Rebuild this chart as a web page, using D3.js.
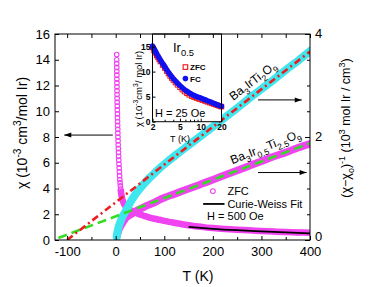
<!DOCTYPE html>
<html><head><meta charset="utf-8">
<script src="https://cdn.jsdelivr.net/npm/d3@7"></script>
<style>
body{margin:0;background:#fff;}
text{font-family:"Liberation Sans",Arial,sans-serif;}
</style></head><body>
<svg id="c" width="375" height="287"></svg>
<script>
// ---------- DATA ----------
// Ba3Ir0.5Ti2.5O9, ZFC chi (left axis, 1e-3 cm3/mol Ir)
const tChi=[2.0,2.05,2.1,2.15,2.2,2.3,2.4,2.5,2.6,2.7,2.8,2.9,3.0,3.15,3.3,3.45,3.6,3.8,4.0,4.2,4.4,4.6,4.85,5.1,5.4,5.7,6.0,6.3,6.7,7.1,7.5,8.0,8.5,9.0,9.6,10.2,11,12,13,14,15.5,17,19,21,23,26,29,32,36,40,45,50,55,60,65,70,80,90,100,110,120,135,150,165,180,200,225,250,275,300,325,350,375,400];
const chiZfc=[14.4,14.0,13.7,13.4,13.1,12.8,12.5,12.2,11.9,11.6,11.3,11.0,10.7,10.4,10.1,9.8,9.5,9.2,8.9,8.6,8.3,8.0,7.7,7.4,7.1,6.8,6.5,6.2,5.9,5.6,5.3,5.0,4.7,4.45,4.2,3.95,3.7,3.45,3.25,3.1,2.95,2.82,2.7,2.6,2.52,2.44,2.36,2.29,2.21,2.14,2.06,1.99,1.92,1.86,1.8,1.74,1.65,1.57,1.49,1.41,1.34,1.24,1.14,1.07,1.0,0.93,0.86,0.8,0.75,0.7,0.66,0.62,0.59,0.56];
// Curie-Weiss fit (left axis)
const tFit=[150,175,200,250,300,350,400];
const chiFit=[1.02,0.94,0.87,0.76,0.67,0.59,0.52];
// 1/(chi-chi0) Ba3Ir0.5Ti2.5O9 (right axis)
const tInvB=[2,3,4,5,6,8,10,12,15,18,20,25,30,35,40,50,60,70,80,90,100,120,140,160,180,200,225,250,275,300,325,350,375,400];
const invB=[0.06,0.1,0.13,0.16,0.19,0.23,0.27,0.3,0.35,0.39,0.42,0.46,0.49,0.52,0.55,0.6,0.65,0.69,0.73,0.78,0.82,0.89,0.96,1.03,1.1,1.17,1.26,1.35,1.44,1.53,1.62,1.7,1.79,1.87];
// 1/(chi-chi0) Ba3IrTi2O9 (right axis)
const tInvA=[2,3,4,5,6,8,10,12,15,20,25,30,40,50,60,70,80,90,100,125,150,175,200,225,250,275,300,325,350,375,400];
const invA=[0.06,0.12,0.17,0.21,0.25,0.31,0.36,0.41,0.47,0.55,0.64,0.73,0.88,1.0,1.11,1.21,1.3,1.39,1.47,1.66,1.84,2.02,2.2,2.38,2.56,2.75,2.93,3.11,3.3,3.48,3.67];
// linear fits (right axis)
const tFitA=[-100,400], fitA=[0.0,3.66];
const tFitB=[-118,400], fitB=[0.04,1.88];
// inset: H = 25 Oe
const tFc=[2.0,2.05,2.1,2.15,2.2,2.25,2.3,2.4,2.5,2.6,2.7,2.8,2.9,3.0,3.1,3.2,3.35,3.5,3.65,3.8,4.0,4.2,4.4,4.6,4.8,5.0,5.3,5.6,6.0,6.4,6.8,7.2,7.6,8.0,8.5,9.0,9.5,10,10.5,11,11.5,12,13,14,15,16,17,18,19,20];
const chiFc=[15.1,14.8,14.55,14.3,14.05,13.8,13.55,13.1,12.7,12.3,11.95,11.6,11.3,11.0,10.7,10.4,10.0,9.65,9.3,9.0,8.6,8.3,8.0,7.7,7.45,7.2,6.9,6.6,6.3,6.02,5.8,5.6,5.4,5.22,5.08,4.95,4.83,4.72,4.61,4.5,4.4,4.3,4.1,3.92,3.75,3.58,3.43,3.3,3.18,3.06];
const tZfcIn=[2.0,2.1,2.2,2.3,2.4,2.5,2.6,2.8,3.0,3.2,3.4,3.6,3.8,4.0,4.3,4.6,5.0,5.4,5.8,6.3,6.8,7.4,8.0,8.7,9.5,10.5,11.5,12.5,13.5,14.5,15.5,16.5,17.5,18.5,19.5,20];
const chiZfcIn=[14.8,14.2,13.7,13.2,12.8,12.4,12.0,11.3,10.7,10.1,9.6,9.1,8.7,8.3,7.8,7.35,6.85,6.4,6.0,5.65,5.35,5.1,4.9,4.7,4.5,4.3,4.12,3.95,3.8,3.65,3.5,3.38,3.26,3.15,3.05,3.0];
// ticks
const xTicks=[-100,0,100,200,300,400], xMinor=[-50,50,150,250,350];
const yLTicks=[0,2,4,6,8,10,12,14,16];
const yRTicks=[0,2,4], yRMinor=[0.5,1,1.5,2.5,3,3.5];
const ixTicks=[2,5,10,20], ixMinor=[3,4,6,7,8,9];
const iyTicks=[0,5,10,15];

// ---------- SCALES ----------
const svg=d3.select("#c");
const x=d3.scaleLinear().domain([-125,400]).range([55,310]);
const yL=d3.scaleLinear().domain([0,16]).range([240,34]);
const yR=d3.scaleLinear().domain([0,4]).range([240,34]);
const xi=d3.scaleLog().domain([2,20]).range([152.5,221.5]);
const yi=d3.scaleLinear().domain([0,17.5]).range([121.7,34]);

const MAG="#f044f0", CYAN="#3ee6ee", RED="#ee1c1c", GREEN="#33dd22";

svg.append("defs").append("clipPath").attr("id","pc").append("rect")
  .attr("x",x.range()[0]).attr("y",yL.range()[1]).attr("width",x.range()[1]-x.range()[0]).attr("height",yL.range()[0]-yL.range()[1]);
const plot=svg.append("g").attr("clip-path","url(#pc)");

const zip=(a,b)=>a.map((v,i)=>[v,b[i]]);
const lineL=d3.line().x(d=>x(d[0])).y(d=>yL(d[1])).curve(d3.curveMonotoneX);
const lineR=d3.line().x(d=>x(d[0])).y(d=>yR(d[1])).curve(d3.curveMonotoneX);

// magenta chi band + circles
const chiPts=zip(tChi,chiZfc);
plot.append("path").attr("d",lineL(chiPts.filter(d=>d[0]>=10))).attr("fill","none").attr("stroke",MAG).attr("stroke-width",6.5);
plot.selectAll("circle.zc").data(chiPts).join("circle").attr("class","zc")
  .attr("cx",d=>x(d[0])).attr("cy",d=>yL(d[1])).attr("r",2.3)
  .attr("fill","none").attr("stroke",MAG).attr("stroke-width",1.1);
// magenta inverse band
plot.append("path").attr("d",lineR(zip(tInvB,invB))).attr("fill","none").attr("stroke",MAG).attr("stroke-width",7.5).attr("stroke-linecap","round");
// cyan band
plot.append("path").attr("d",lineR(zip(tInvA,invA))).attr("fill","none").attr("stroke",CYAN).attr("stroke-width",8).attr("stroke-linecap","round");
// green dashed fit
plot.append("path").attr("d",d3.line().x(d=>x(d[0])).y(d=>yR(d[1]))(zip(tFitB,fitB))).attr("fill","none").attr("stroke",GREEN).attr("stroke-width",2.6).attr("stroke-dasharray","9,5");
// red dash-dot fit
plot.append("path").attr("d",d3.line().x(d=>x(d[0])).y(d=>yR(d[1]))(zip(tFitA,fitA))).attr("fill","none").attr("stroke",RED).attr("stroke-width",2.6).attr("stroke-dasharray","7,3.5,2,3.5");
// black CW fit
plot.append("path").attr("d",lineL(zip(tFit,chiFit))).attr("fill","none").attr("stroke","#000").attr("stroke-width",1.8);

// ---------- INSET ----------
const ins=svg.append("g");
ins.append("rect").attr("x",xi.range()[0]).attr("y",yi.range()[1]).attr("width",xi.range()[1]-xi.range()[0]).attr("height",yi.range()[0]-yi.range()[1]).attr("fill","#fff");
ins.selectAll("rect.zs").data(zip(tZfcIn,chiZfcIn)).join("rect").attr("class","zs")
  .attr("x",d=>xi(d[0])-2.2).attr("y",d=>yi(d[1])-2.2).attr("width",4.4).attr("height",4.4)
  .attr("fill","none").attr("stroke","#ee1111").attr("stroke-width",1);
ins.selectAll("circle.fc").data(zip(tFc,chiFc)).join("circle").attr("class","fc")
  .attr("cx",d=>xi(d[0])).attr("cy",d=>yi(d[1])).attr("r",2.7).attr("fill","#1010f0");
ins.append("rect").attr("x",xi.range()[0]).attr("y",yi.range()[1]).attr("width",xi.range()[1]-xi.range()[0]).attr("height",yi.range()[0]-yi.range()[1]).attr("fill","none").attr("stroke","#000").attr("stroke-width",1);
function styleAx(g,fs,bold){g.select(".domain").remove();g.selectAll("text").attr("font-size",fs).attr("font-family","Liberation Sans, Arial, sans-serif").attr("font-weight",bold?"bold":"normal").attr("fill","#000");g.selectAll("line").attr("stroke","#000");}
let g;
g=ins.append("g").attr("transform",`translate(0,${yi.range()[0]})`).call(d3.axisBottom(xi).tickValues(ixTicks).tickFormat(d=>String(d)).tickSize(-3).tickPadding(2));styleAx(g,8.5,true);
g=ins.append("g").attr("transform",`translate(0,${yi.range()[0]})`).call(d3.axisBottom(xi).tickValues(ixMinor).tickFormat("").tickSize(-2));styleAx(g,8,true);
g=ins.append("g").attr("transform",`translate(${xi.range()[0]},0)`).call(d3.axisLeft(yi).tickValues(iyTicks).tickFormat(d=>String(d)).tickSize(-3).tickPadding(2));styleAx(g,8.5,true);

// ---------- MAIN AXES ----------
svg.append("rect").attr("x",55).attr("y",34).attr("width",255).attr("height",206).attr("fill","none").attr("stroke","#000").attr("stroke-width",1);
g=svg.append("g").attr("transform",`translate(0,${yL.range()[0]})`).call(d3.axisBottom(x).tickValues(xTicks).tickFormat(d=>String(d)).tickSize(-4).tickPadding(6.5));styleAx(g,13);
g=svg.append("g").attr("transform",`translate(0,${yL.range()[0]})`).call(d3.axisBottom(x).tickValues(xMinor).tickFormat("").tickSize(-3));styleAx(g,13);
g=svg.append("g").attr("transform",`translate(0,${yL.range()[1]})`).call(d3.axisTop(x).tickValues(xTicks.concat(xMinor)).tickFormat("").tickSize(-4));styleAx(g,13);
g=svg.append("g").attr("transform",`translate(${x.range()[0]},0)`).call(d3.axisLeft(yL).tickValues(yLTicks).tickFormat(d=>String(d)).tickSize(-4).tickPadding(5));styleAx(g,13);
g=svg.append("g").attr("transform",`translate(${x.range()[1]},0)`).call(d3.axisRight(yR).tickValues(yRTicks).tickFormat(d=>String(d)).tickSize(-5).tickPadding(5));styleAx(g,13);
g.selectAll("text").attr("dy",d=>d===0?"0em":"0.3em");
g=svg.append("g").attr("transform",`translate(${x.range()[1]},0)`).call(d3.axisRight(yR).tickValues(yRMinor).tickFormat("").tickSize(-3));styleAx(g,13);

// ---------- TEXT ----------
function rich(sel,parts,fs){let cur=0;parts.forEach(([s,t])=>{const sh=t==="sub"?fs*0.33:t==="sup"?-fs*0.42:0;sel.append("tspan").text(s).attr("dy",sh-cur).attr("font-size",t?fs*0.72:fs);cur=sh;});return sel;}
function txt(px,py,rot,anchor,fs,parts,weight){const t=svg.append("text").attr("transform",`translate(${px},${py}) rotate(${rot})`).attr("text-anchor",anchor).attr("font-size",fs).attr("font-weight",weight||"normal").attr("fill","#000");return rich(t,parts,fs);}

txt(27,133,-90,"middle",14,[["χ (10",""],["-3","sup"],[" cm",""],["3","sup"],["/mol Ir)",""]]);
txt(350,128,-90,"middle",12.5,[["(χ−χ",""],["o","sub"],[")",""],["-1","sup"],[" (10",""],["3","sup"],[" mol Ir / cm",""],["3","sup"],[")",""]]);
txt(198,281,0,"middle",14,[["T (K)",""]]);
// inset labels
txt(142,89,-90,"middle",9.5,[["χ (10",""],["-3","sup"],["cm",""],["3","sup"],["/ mol Ir)",""]]);
txt(180,142,0,"middle",9,[["T (K)",""]]);
txt(173,52,0,"start",13,[["Ir",""],["0.5","sub"]]);
txt(155,117,0,"start",11,[["H = 25 Oe",""]]);
svg.append("rect").attr("x",xi(6.0)-2.3).attr("y",yi(10.9)-2.3).attr("width",4.6).attr("height",4.6).attr("fill","none").attr("stroke","#ee1111").attr("stroke-width",1.1);
svg.append("circle").attr("cx",xi(6.0)).attr("cy",yi(8.6)).attr("r",2.8).attr("fill","#1010f0");
txt(xi(7.0),yi(10.9)+3,0,"start",8,[["ZFC",""]],"bold");
txt(xi(7.0),yi(8.6)+3,0,"start",8,[["FC",""]],"bold");
// compound labels
txt(x(242),yR(2.7),-37.5,"start",12,[["Ba",""],["3","sub"],["IrTi",""],["2","sub"],["O",""],["9","sub"]]);
txt(x(240),yR(1.47),-21.5,"start",12,[["Ba",""],["3","sub"],["Ir",""],["0.5","sub"],["Ti",""],["2.5","sub"],["O",""],["9","sub"]]);
// legend
svg.append("circle").attr("cx",x(200)).attr("cy",yL(3.8)).attr("r",2.4).attr("fill","none").attr("stroke",MAG).attr("stroke-width",1.1);
txt(x(230),yL(3.8)+4,0,"start",11,[["ZFC",""]]);
svg.append("line").attr("x1",x(180)).attr("x2",x(224)).attr("y1",yL(2.8)).attr("y2",yL(2.8)).attr("stroke","#000").attr("stroke-width",1.8);
txt(x(230),yL(2.8)+4,0,"start",11,[["Curie-Weiss Fit",""]]);
txt(x(188),yL(1.55),0,"start",11,[["H = 500 Oe",""]]);
// arrows
function arrow(x1,y1,x2,y2){svg.append("line").attr("x1",x1).attr("y1",y1).attr("x2",x2).attr("y2",y2).attr("stroke","#000").attr("stroke-width",1);
  const dir=Math.sign(x2-x1);svg.append("path").attr("d",`M${x2},${y2}L${x2-dir*7},${y2-2.5}L${x2-dir*7},${y2+2.5}Z`).attr("fill","#000");}
arrow(x(-6),yL(8.15),x(-106),yL(8.15));
arrow(x(293),yR(2.72),x(383),yR(2.72));
arrow(x(293),yR(1.31),x(393),yR(1.31));
</script></body></html>
